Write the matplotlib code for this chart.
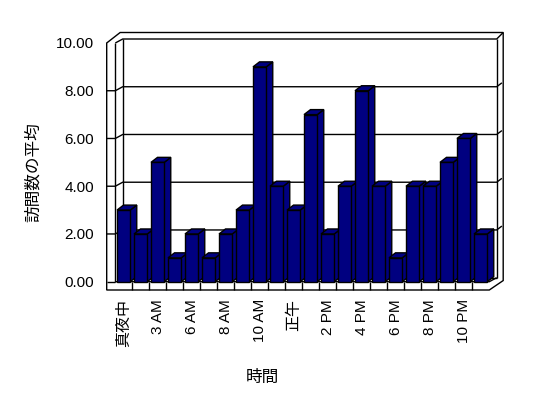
import numpy as np
import matplotlib
matplotlib.use("Agg")
import matplotlib.pyplot as plt
from matplotlib.patches import Polygon

# データ
hours = ["真夜中", "2 AM", "3 AM", "5 AM", "6 AM", "7 AM", "8 AM", "9 AM",
         "10 AM", "11 AM", "正午", "1 PM", "2 PM", "3 PM", "4 PM", "5 PM",
         "6 PM", "7 PM", "8 PM", "9 PM", "10 PM", "11 PM"]
visits = [3, 2, 5, 1, 2, 1, 2, 3, 9, 4, 3, 7, 2, 4, 8, 4, 1, 4, 4, 5, 6, 2]
y_ticks = [0, 2, 4, 6, 8, 10]

plt.rcParams['font.family'] = ['Liberation Sans', 'Noto Sans CJK JP']

W, H, DPI = 548, 398, 100
fig = plt.figure(figsize=(W / DPI, H / DPI), dpi=DPI)
fig.patch.set_facecolor("white")

# 前面の座標系 (px)
X0, X1 = 115.3, 489.3
Y0, Y1 = 281.7, 43.0
ax = fig.add_axes([X0 / W, 1 - Y0 / H, (X1 - X0) / W, (Y0 - Y1) / H])

n = len(visits)
ymax = y_ticks[-1]
ax.set_xlim(0, n)
ax.set_ylim(0, ymax)
cat_px = (X1 - X0) / n
unit_px = (Y0 - Y1) / ymax

# 奥行き・壁の厚み (px -> データ単位)
bdx, bdy = 6.5 / cat_px, 5.0 / unit_px      # 棒の奥行き
wdx, wdy = 7.4 / cat_px, 4.0 / unit_px      # 壁までの奥行き
tx, ty = 8.6 / cat_px, 8.3 / unit_px        # 壁の厚み
rx, ry = 6.5 / cat_px, 6.5 / unit_px        # 奥の壁の縁

lw = 1.0
kw = dict(color="black", lw=lw, clip_on=False, solid_capstyle="butt")

# 外形
outer = [(-tx, -ty), (-tx, ymax), (wdx - 0.15, ymax + wdy + ry),
         (n + wdx + rx, ymax + wdy + ry), (n + wdx + rx, -ty + (wdy + ry) * 0.9),
         (n, -ty)]
ax.add_patch(Polygon(outer, closed=True, facecolor="white", edgecolor="black",
                     lw=lw, clip_on=False, zorder=1))

# 内側の線
ax.plot([0, 0], [0, ymax], zorder=2, **kw)
ax.plot([0, wdx, n + wdx, n + wdx + rx],
        [ymax, ymax + wdy, ymax + wdy, ymax + wdy + ry], zorder=2, **kw)
ax.plot([wdx, wdx], [wdy, ymax + wdy], zorder=2, **kw)
ax.plot([n + wdx, n + wdx], [wdy, ymax + wdy], zorder=2, **kw)
ax.plot([wdx, n + wdx], [wdy, wdy], zorder=2, **kw)
ax.plot([0, n, n + wdx], [0, 0, wdy], zorder=2, **kw)

# 目盛線
for v in y_ticks[:-1]:
    if v == 0:
        ax.plot([-tx, 0], [0, 0], zorder=2, **kw)
        continue
    ax.plot([-tx, 0, wdx, n + wdx, n + wdx + rx * 0.8],
            [v, v, v + wdy, v + wdy, v + wdy + ry * 0.6], zorder=2, **kw)

# 床の前面の区切り
for k in range(1, n):
    ax.plot([k, k], [0, -ty], zorder=2, **kw)

# 棒
navy = "#000080"
bw, off = 0.78, 0.1
for i, v in enumerate(visits):
    x0 = i + off
    x1 = x0 + bw
    z = 10 + i
    side = [(x1, 0), (x1 + bdx, bdy), (x1 + bdx, v + bdy), (x1, v)]
    top = [(x0, v), (x1, v), (x1 + bdx, v + bdy), (x0 + bdx, v + bdy)]
    front = [(x0, 0), (x1, 0), (x1, v), (x0, v)]
    for pts in (side, top, front):
        ax.add_patch(Polygon(pts, closed=True, facecolor=navy, edgecolor="black",
                             lw=lw, clip_on=False, zorder=z, joinstyle="miter"))

# 軸の目盛ラベル
for s in ax.spines.values():
    s.set_visible(False)
ax.patch.set_visible(False)
ax.set_yticks(y_ticks)
ax.set_yticklabels([f"{v:.2f}" for v in y_ticks], fontsize=11)
ax.tick_params(axis="y", length=0, pad=15.5)
ax.set_xticks(np.arange(0, n, 2) + 0.5)
ax.set_xticklabels(hours[::2], rotation=90, fontsize=11)
for lab in ax.get_xticklabels():
    if not lab.get_text()[0].isdigit():
        lab.set_fontsize(11.5)
ax.tick_params(axis="x", length=0, pad=12.5)

fig.text(33 / W, 1 - 172 / H, "訪問数の平均", rotation=90, fontsize=12,
         ha="center", va="center")
fig.text(262 / W, 1 - 377 / H, "時間", fontsize=12, ha="center", va="center")

fig.savefig("out.png", dpi=DPI)
